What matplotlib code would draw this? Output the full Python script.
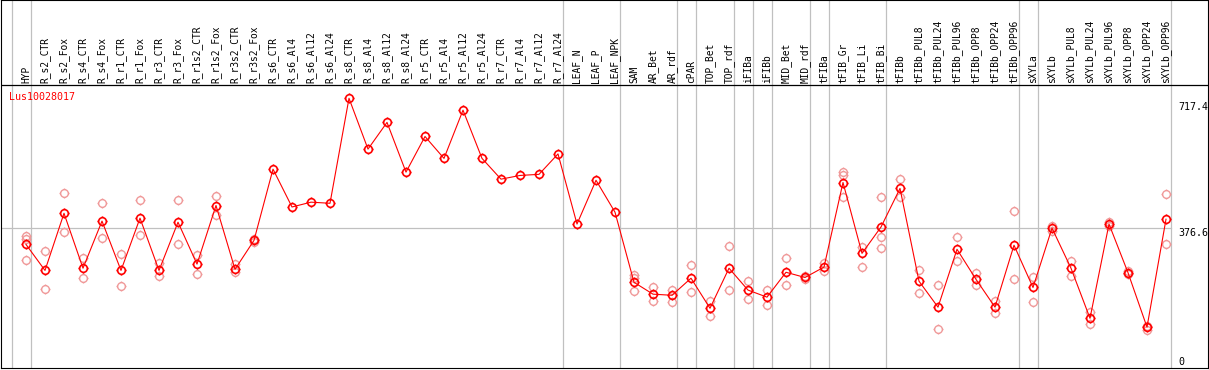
"""
Expression profile of Lus10028017 across tissues / treatments
"""
import matplotlib.pyplot as plt
import numpy as np
from matplotlib.path import Path

nan = np.nan

samples = ['HYP', 'R_s2_CTR', 'R_s2_Fox', 'R_s4_CTR', 'R_s4_Fox', 'R_r1_CTR',
           'R_r1_Fox', 'R_r3_CTR', 'R_r3_Fox', 'R_r1s2_CTR', 'R_r1s2_Fox',
           'R_r3s2_CTR', 'R_r3s2_Fox', 'R_s6_CTR', 'R_s6_Al4', 'R_s6_Al12',
           'R_s6_Al24', 'R_s8_CTR', 'R_s8_Al4', 'R_s8_Al12', 'R_s8_Al24',
           'R_r5_CTR', 'R_r5_Al4', 'R_r5_Al12', 'R_r5_Al24', 'R_r7_CTR',
           'R_r7_Al4', 'R_r7_Al12', 'R_r7_Al24', 'LEAF_N', 'LEAF_P', 'LEAF_NPK',
           'SAM', 'AR_Bet', 'AR_rdf', 'cPAR', 'TOP_Bet', 'TOP_rdf', 'iFIBa',
           'iFIBb', 'MID_Bet', 'MID_rdf', 'tFIBa', 'tFIB_Gr', 'tFIB_Li',
           'tFIB_Bi', 'tFIBb', 'tFIBb_PUL8', 'tFIBb_PUL24', 'tFIBb_PUL96',
           'tFIBb_OPP8', 'tFIBb_OPP24', 'tFIBb_OPP96', 'sXYLa', 'sXYLb',
           'sXYLb_PUL8', 'sXYLb_PUL24', 'sXYLb_PUL96', 'sXYLb_OPP8',
           'sXYLb_OPP24', 'sXYLb_OPP96']

# mean expression per sample
expr_mean = [333, 263, 417, 269, 396, 263, 404, 263, 393, 280, 438, 266, 344,
             536, 434, 447, 444, 727, 590, 662, 528, 624, 565, 695, 565, 509,
             519, 522, 577, 388, 506, 420,
             231, 199, 196, 242, 161, 269, 210, 191, 258, 244, 272, 500, 309,
             380, 484, 234, 164, 320, 239, 164, 331, 217, 377, 269, 134, 388,
             257, 110, 401]

# individual replicates (nan = none)
rep_a = [356, 315, 472, 296, 444, 306, 452, 282, 452, 305, 463, 280, 348,
         nan, nan, nan, nan, nan, nan, nan, nan, nan, nan, nan, nan, nan,
         nan, nan, nan, nan, nan, nan,
         251, 218, 210, 277, 181, 328, 234, 210, 296, 248, 282, 527, 327,
         460, 509, 263, 223, 352, 256, 181, 422, 246, 384, 288, 150, 394,
         262, 114, 468]
rep_b = [348, 212, 366, 242, 350, 220, 358, 247, 333, 253, 413, 258, 340,
         nan, nan, nan, nan, nan, nan, nan, nan, nan, nan, nan, nan, nan,
         nan, nan, nan, nan, nan, nan,
         243, 180, 179, 204, 139, 210, 185, 169, 223, 241, 262, 521, 272,
         354, 462, 202, 105, 288, 223, 147, 239, 178, 370, 247, 118, 382,
         253, 103, 334]
rep_c = [290, nan, nan, nan, nan, nan, nan, nan, nan, nan, nan, nan, nan,
         nan, nan, nan, nan, nan, nan, nan, nan, nan, nan, nan, nan, nan,
         nan, nan, nan, nan, nan, nan,
         208, nan, nan, nan, nan, nan, nan, nan, nan, nan, nan, 460, nan,
         323, nan, nan, nan, nan, nan, nan, nan, nan, nan, nan, nan, nan,
         nan, nan, nan]

# group separators (after these sample indices)
separators = [-1, 0, 28, 31, 34, 35, 37, 38, 39, 41, 42, 45, 52, 53, 60]
gene = 'Lus10028017'
mid_value = 376.6
max_value = 717.4

PX = 0.371          # pixels per expression unit
W, H = 1209, 370

# circle with four little ticks
circ = Path.unit_circle()
tk = Path([(0, 1), (0, 1.3), (0, -1), (0, -1.3), (1, 0), (1.3, 0), (-1, 0), (-1.3, 0)],
          [Path.MOVETO, Path.LINETO] * 4)
ring = Path.make_compound_path(circ, tk)

fig = plt.figure(figsize=(W / 100, H / 100), dpi=100)
ax = fig.add_axes([1 / W, 2 / H, 1207 / W, 368 / H])
ax.set_xlim(-25 / 19, 1182 / 19)
ax.set_ylim(0, 368 / PX)
ax.set_xticks([])
ax.set_yticks([])
for s in ax.spines.values():
    s.set_linewidth(0.8)
    s.set_color('black')

x = np.arange(len(samples))
off = 5 / 19
for sep in separators:
    ax.axvline(sep + off, color='#c0c0c0', lw=0.9, zorder=1)

header = 283 / PX
ax.axhline(header, color='black', lw=0.9, zorder=2)
ax.plot([-25 / 19, 60 + off], [mid_value, mid_value], color='#c0c0c0', lw=0.9, zorder=1)

for r in (rep_a, rep_b, rep_c):
    ax.plot(x, r, ls='none', marker=ring, ms=7.2, mfc='none', mec='#f09a9a',
            mew=1.0, zorder=3)
ax.plot(x, expr_mean, color='red', lw=0.8, marker=ring, ms=7.2, mfc='none',
        mec='red', mew=1.2, zorder=4)

for i, name in enumerate(samples):
    ax.text(i, header + 2 / PX, name, rotation=90, ha='center', va='bottom',
            fontsize=6.9, family='DejaVu Sans Mono')

ax.text(-17 / 19, (368 - 97) / PX, gene, color='red', ha='left', va='center',
        fontsize=7.2, family='DejaVu Sans Mono')

xr = (1178 - 26) / 19
ax.text(xr, max_value, f'{max_value}', ha='left', va='top', fontsize=7.2,
        family='DejaVu Sans Mono')
ax.text(xr, mid_value, f'{mid_value}', ha='left', va='top', fontsize=7.2,
        family='DejaVu Sans Mono')
ax.text(xr, 1.5, '0', ha='left', va='bottom', fontsize=7.2,
        family='DejaVu Sans Mono')

plt.savefig('out.png', dpi=100)
